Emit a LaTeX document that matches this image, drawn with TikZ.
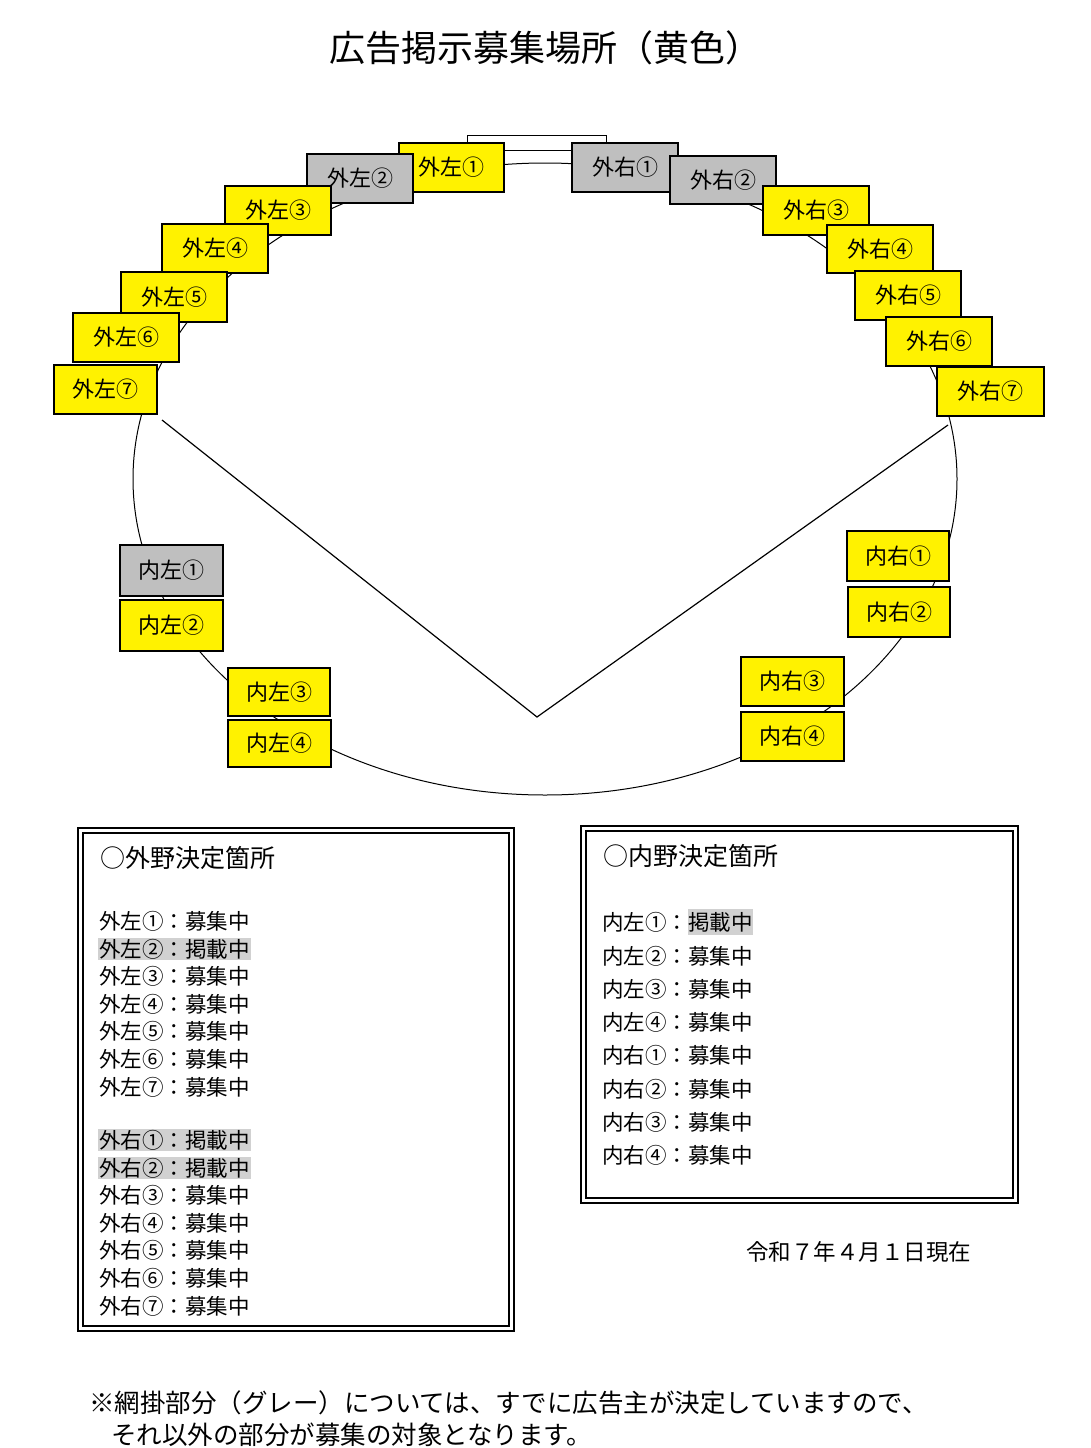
\documentclass[tikz,border=0pt]{standalone}
\usepackage{fontspec}
\setmainfont{Noto Sans CJK JP}
\begin{document}
\begin{tikzpicture}[x=1pt,y=-1pt,
  yb/.style={draw,line width=1.2pt,fill=yellow,font=\fontsize{22}{22}\selectfont,inner sep=0pt},
  gb/.style={draw,line width=1.2pt,fill=black!25,font=\fontsize{22}{22}\selectfont,inner sep=0pt},
  ln/.style={anchor=west,font=\fontsize{21.5}{21.5}\selectfont,inner sep=1pt},
  hl/.style={ln,fill=black!18}]
\useasboundingbox (0,0) rectangle (1091,1448);
\node[font=\fontsize{36}{36}\selectfont] (title) at (545,48) {広告掲示募集場所（黄色）};
\draw[line width=1pt] (545,479) ellipse [x radius=412, y radius=316];
\draw[line width=1pt,fill=white] (467,135) rectangle (606,150);
\draw[line width=1.2pt] (162,420) -- (537,717) -- (948,425);
% outfield left
\node[yb,minimum width=105,minimum height=49] (L1) at (451.5,167.5) {外左①};
\node[gb,minimum width=106,minimum height=49] (L2) at (360,178.5) {外左②};
\node[yb,minimum width=106,minimum height=49] (L3) at (278,210.5) {外左③};
\node[yb,minimum width=106,minimum height=49] (L4) at (215,248.5) {外左④};
\node[yb,minimum width=106,minimum height=50] (L5) at (174,297) {外左⑤};
\node[yb,minimum width=106,minimum height=49] (L6) at (126,337.5) {外左⑥};
\node[yb,minimum width=103,minimum height=49] (L7) at (105.5,389.5) {外左⑦};
% outfield right
\node[gb,minimum width=106,minimum height=49] (R1) at (625,167.5) {外右①};
\node[gb,minimum width=106,minimum height=48] (R2) at (723,180) {外右②};
\node[yb,minimum width=106,minimum height=49] (R3) at (816,210.5) {外右③};
\node[yb,minimum width=106,minimum height=48] (R4) at (880,249) {外右④};
\node[yb,minimum width=106,minimum height=49] (R5) at (908,295.5) {外右⑤};
\node[yb,minimum width=106,minimum height=49] (R6) at (939,341.5) {外右⑥};
\node[yb,minimum width=107,minimum height=49] (R7) at (990.5,391.5) {外右⑦};
% infield
\node[gb,minimum width=103,minimum height=51] (IL1) at (171.5,570.5) {内左①};
\node[yb,minimum width=103,minimum height=51] (IL2) at (171.5,625.5) {内左②};
\node[yb,minimum width=102,minimum height=48] (IL3) at (279,692) {内左③};
\node[yb,minimum width=103,minimum height=47] (IL4) at (279.5,743.5) {内左④};
\node[yb,minimum width=102,minimum height=50] (IR1) at (898,556) {内右①};
\node[yb,minimum width=102,minimum height=50] (IR2) at (899,612) {内右②};
\node[yb,minimum width=103,minimum height=49] (IR3) at (792.5,681.5) {内右③};
\node[yb,minimum width=103,minimum height=49] (IR4) at (792.5,736.5) {内右④};
% legend boxes
\draw[line width=1.2pt] (78,828) rectangle (514,1331);
\draw[line width=1.2pt] (83,833) rectangle (509,1326);
\draw[line width=1.2pt] (581,826) rectangle (1018,1203);
\draw[line width=1.2pt] (586,831) rectangle (1013,1198);
\node[ln,font=\fontsize{25}{25}\selectfont] (ot) at (99,858) {○外野決定箇所};
\node[ln] (o1) at (98,921) {外左①：募集中};
\node[hl] (o2) at (98,949) {外左②：掲載中};
\node[ln] (o3) at (98,976) {外左③：募集中};
\node[ln] (o4) at (98,1004) {外左④：募集中};
\node[ln] (o5) at (98,1031) {外左⑤：募集中};
\node[ln] (o6) at (98,1059) {外左⑥：募集中};
\node[ln] (o7) at (98,1087) {外左⑦：募集中};
\node[hl] (p1) at (98,1140) {外右①：掲載中};
\node[hl] (p2) at (98,1168) {外右②：掲載中};
\node[ln] (p3) at (98,1195) {外右③：募集中};
\node[ln] (p4) at (98,1223) {外右④：募集中};
\node[ln] (p5) at (98,1250) {外右⑤：募集中};
\node[ln] (p6) at (98,1278) {外右⑥：募集中};
\node[ln] (p7) at (98,1306) {外右⑦：募集中};
\node[ln,font=\fontsize{25}{25}\selectfont] (it) at (602,856) {○内野決定箇所};
\node[ln] (i1) at (601,922) {内左①：\colorbox{black!18}{\hspace{-3pt}掲載中\hspace{-3pt}}};
\node[ln] (i2) at (601,956) {内左②：募集中};
\node[ln] (i3) at (601,989) {内左③：募集中};
\node[ln] (i4) at (601,1022) {内左④：募集中};
\node[ln] (i5) at (601,1055) {内右①：募集中};
\node[ln] (i6) at (601,1089) {内右②：募集中};
\node[ln] (i7) at (601,1122) {内右③：募集中};
\node[ln] (i8) at (601,1155) {内右④：募集中};
\node[ln,font=\fontsize{22.5}{22.5}\selectfont] (date) at (745,1252) {令和７年４月１日現在};
\node[ln,font=\fontsize{25.5}{25.5}\selectfont] (n1) at (88,1403) {※網掛部分（グレー）については、すでに広告主が決定していますので、};
\node[ln,font=\fontsize{25.5}{25.5}\selectfont] (n2) at (110,1435) {それ以外の部分が募集の対象となります。};
\end{tikzpicture}
\end{document}
